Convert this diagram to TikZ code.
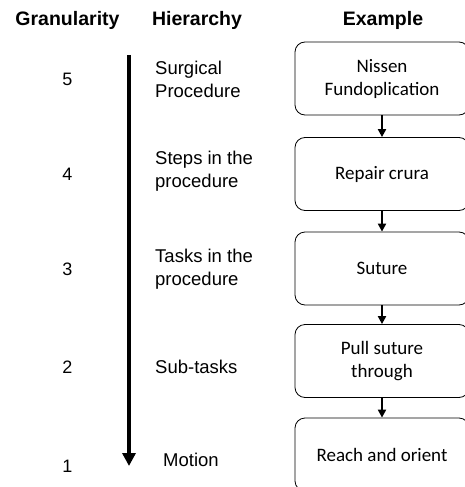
\documentclass[tikz,border=0pt]{standalone}
\usepackage{fontspec}
\setmainfont{Liberation Sans}
\newfontfamily\boxfont{Carlito}
\usetikzlibrary{arrows.meta,calc}

\begin{document}
\begin{tikzpicture}[x=1pt,y=-1pt,
	head/.style={font=\bfseries\fontsize{19.5}{22}\selectfont},
	num/.style={font=\fontsize{18}{22}\selectfont},
	tier/.style={font=\fontsize{18.5}{23}\selectfont, align=left, anchor=west, inner sep=0pt},
	example/.style={draw, line width=0.8pt, rounded corners=10pt, minimum width=174pt, minimum height=73pt, align=center, font=\boxfont\fontsize{19}{23}\selectfont},
	link/.style={-{Triangle[length=8pt,width=8pt]}, line width=2.5pt}]
	\useasboundingbox (0,0) rectangle (464,487);
	\node[head] (granularity) at (67.5,20) {Granularity};
	\node[head] (hierarchy) at (197,20) {Hierarchy};
	\node[head] (example) at (383,20) {Example};

	\node[num] (n5) at (67.5,79) {5};
	\node[num] (n4) at (67.5,174) {4};
	\node[num] (n3) at (67.5,269) {3};
	\node[num] (n2) at (67.5,367) {2};
	\node[num] (n1) at (67.5,466) {1};

	\coordinate (top) at (129,55);
	\coordinate (bottom) at (129,466);
	\draw[-{Triangle[length=13pt,width=13pt]}, line width=4.5pt] (top) -- (bottom);

	\node[tier] (t5) at (155,79.5) {Surgical\\Procedure};
	\node[tier] (t4) at (155,171.5) {Steps in the\\procedure};
	\node[tier] (t3) at (155,269.5) {Tasks in the\\procedure};
	\node[tier] (t2) at (155,367) {Sub-tasks};
	\node[tier] (t1) at (163,460) {Motion};

	\node[example] (nissen) at (382,78.5) {Nissen\\Fundoplication};
	\node[example] (crura) at (382,174) {Repair crura};
	\node[example] (suture) at (382,268.5) {Suture};
	\node[example] (pull) at (382,361) {Pull suture\\through};
	\node[example] (reach) at (382,454.5) {Reach and orient};

	\draw[link] (nissen) -- (crura);
	\draw[link] (crura) -- (suture);
	\draw[link] (suture) -- (pull);
	\draw[link] (pull) -- (reach);
\end{tikzpicture}
\end{document}
